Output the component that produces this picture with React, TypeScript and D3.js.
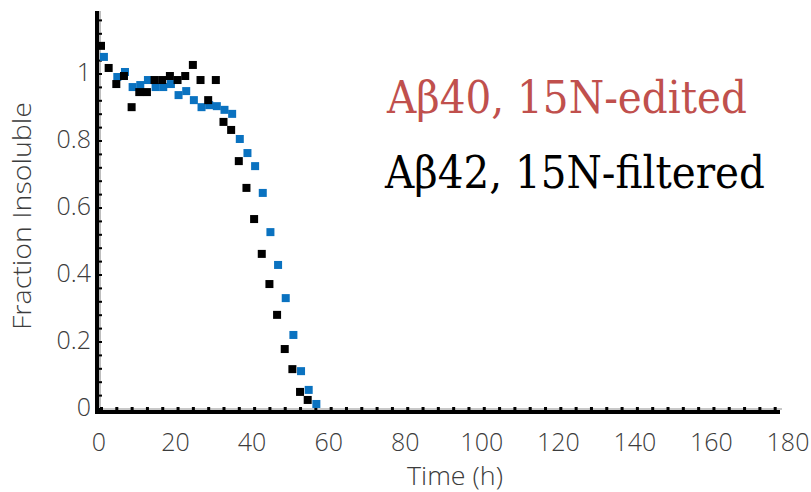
import React, { useEffect, useRef } from 'react';
import * as d3 from 'd3';

// Aβ40 (15N-edited) – blue squares
const ab40Time = [0.5, 4, 6, 8, 10, 12, 14, 16, 18, 20, 22, 24, 26, 28, 30, 32, 34, 36, 38, 40, 42, 44, 46, 48, 50, 52, 54, 56];
const ab40Frac = [1.051, 0.991, 1.006, 0.961, 0.967, 0.982, 0.961, 0.961, 0.970, 0.937, 0.949, 0.922, 0.901, 0.907, 0.904, 0.893, 0.881, 0.806, 0.764, 0.725, 0.645, 0.528, 0.430, 0.331, 0.221, 0.113, 0.057, 0.015];

// Aβ42 (15N-filtered) – black squares
const ab42Time = [0, 2, 4, 6, 8, 10, 12, 14, 16, 18, 20, 22, 24, 26, 28, 30, 32, 34, 36, 38, 40, 42, 44, 46, 48, 50, 52, 54];
const ab42Frac = [1.084, 1.018, 0.970, 0.994, 0.901, 0.946, 0.946, 0.982, 0.982, 0.994, 0.982, 0.994, 1.027, 0.982, 0.922, 0.982, 0.857, 0.833, 0.740, 0.660, 0.567, 0.463, 0.373, 0.281, 0.179, 0.119, 0.051, 0.027];

const xTickLabels = [0, 20, 40, 60, 80, 100, 120, 140, 160, 180];
const yTickLabels = [0, 0.2, 0.4, 0.6, 0.8, 1];
const legendLabels = ['Aβ40, 15N-edited', 'Aβ42, 15N-filtered'];

const WIDTH = 811;
const HEIGHT = 492;

const Chart = () => {
    const svgRef = useRef<SVGSVGElement>(null);

    useEffect(() => {
        if (!svgRef.current) return;
        const svg = d3.select(svgRef.current);
        svg.selectAll('*').remove();

        const x = d3.scaleLinear().domain([0, 180]).range([101, 790]);
        const y = d3.scaleLinear().domain([0, 1]).range([409, 74]);

        const axisX = 97;     // y-axis line position
        const axisY = 412;    // x-axis line position
        const tickFont = "'Open Sans', sans-serif";
        const tickSize = 25;

        // Light band along inner edge of the axes
        svg.append('line')
            .attr('x1', axisX + 3).attr('x2', axisX + 3)
            .attr('y1', 11).attr('y2', axisY)
            .attr('stroke', '#bdbdbd').attr('stroke-width', 2);
        svg.append('line')
            .attr('x1', axisX).attr('x2', 782)
            .attr('y1', axisY - 3).attr('y2', axisY - 3)
            .attr('stroke', '#c8c8c8').attr('stroke-width', 2);

        // Minor ticks (inward)
        const yMinor = d3.range(0, 1.18, 0.04);
        svg.append('g').selectAll('rect')
            .data(yMinor)
            .enter()
            .append('rect')
            .attr('x', axisX + 2)
            .attr('y', d => y(d) - 1)
            .attr('width', 3)
            .attr('height', 2)
            .attr('fill', '#000');

        const xMinor = d3.range(0, 180, 4);
        svg.append('g').selectAll('rect')
            .data(xMinor)
            .enter()
            .append('rect')
            .attr('x', d => x(d) - 1)
            .attr('y', axisY - 5)
            .attr('width', 3)
            .attr('height', 4)
            .attr('fill', '#000');

        // Axis lines
        svg.append('line')
            .attr('x1', axisX).attr('x2', axisX)
            .attr('y1', 11).attr('y2', axisY + 2)
            .attr('stroke', '#000').attr('stroke-width', 4);
        svg.append('line')
            .attr('x1', axisX - 2).attr('x2', 780)
            .attr('y1', axisY).attr('y2', axisY)
            .attr('stroke', '#000').attr('stroke-width', 4);

        // Tick labels
        svg.append('g').selectAll('text')
            .data(xTickLabels)
            .enter()
            .append('text')
            .attr('x', d => x(d) - 2)
            .attr('y', 444)
            .attr('text-anchor', 'middle')
            .attr('dominant-baseline', 'middle')
            .attr('font-family', tickFont)
            .attr('font-weight', 300)
            .attr('font-size', tickSize)
            .attr('fill', '#3c3c3c')
            .text(d => d);

        svg.append('g').selectAll('text')
            .data(yTickLabels)
            .enter()
            .append('text')
            .attr('x', 91)
            .attr('y', d => y(d))
            .attr('text-anchor', 'end')
            .attr('dominant-baseline', 'middle')
            .attr('font-family', tickFont)
            .attr('font-weight', 300)
            .attr('font-size', tickSize)
            .attr('fill', '#3c3c3c')
            .text(d => d);

        // Axis titles
        svg.append('text')
            .attr('transform', 'translate(24, 216) rotate(-90)')
            .attr('x', -114)
            .attr('dominant-baseline', 'middle')
            .attr('font-family', tickFont)
            .attr('font-weight', 300)
            .attr('font-size', tickSize)
            .attr('fill', '#3c3c3c')
            .attr('textLength', 228)
            .attr('lengthAdjust', 'spacingAndGlyphs')
            .text('Fraction Insoluble');

        svg.append('text')
            .attr('x', 407)
            .attr('y', 478)
            .attr('dominant-baseline', 'middle')
            .attr('font-family', tickFont)
            .attr('font-weight', 300)
            .attr('font-size', tickSize)
            .attr('fill', '#3c3c3c')
            .attr('textLength', 96)
            .attr('lengthAdjust', 'spacingAndGlyphs')
            .text('Time (h)');

        // Data markers: blue first, black on top
        const size = 8;
        const ab40 = ab40Time.map((t, i) => ({ t, v: ab40Frac[i] }));
        const ab42 = ab42Time.map((t, i) => ({ t, v: ab42Frac[i] }));

        svg.append('g').selectAll('rect')
            .data(ab40)
            .enter()
            .append('rect')
            .attr('x', d => x(d.t) + 1 - size / 2)
            .attr('y', d => y(d.v) - size / 2)
            .attr('width', size)
            .attr('height', size)
            .attr('fill', '#0a72c0');

        svg.append('g').selectAll('rect')
            .data(ab42)
            .enter()
            .append('rect')
            .attr('x', d => x(d.t) - size / 2)
            .attr('y', d => y(d.v) - size / 2)
            .attr('width', size)
            .attr('height', size)
            .attr('fill', '#000');

        // Legend text
        svg.append('text')
            .attr('x', 387)
            .attr('y', 113)
            .attr('font-family', "'DejaVu Serif', serif")
            .attr('font-size', 44)
            .attr('fill', '#c0504d')
            .attr('textLength', 360)
            .attr('lengthAdjust', 'spacingAndGlyphs')
            .text(legendLabels[0]);

        svg.append('text')
            .attr('x', 385)
            .attr('y', 188)
            .attr('font-family', "'DejaVu Serif', serif")
            .attr('font-size', 44)
            .attr('fill', '#000')
            .attr('textLength', 380)
            .attr('lengthAdjust', 'spacingAndGlyphs')
            .text(legendLabels[1]);
    }, []);

    return (
        <svg
            ref={svgRef}
            width={WIDTH}
            height={HEIGHT}
            viewBox={`0 0 ${WIDTH} ${HEIGHT}`}
            style={{ position: 'absolute', left: 0, top: 0, background: '#fff' }}
        />
    );
};

export default function App() {
    return <Chart />;
}
